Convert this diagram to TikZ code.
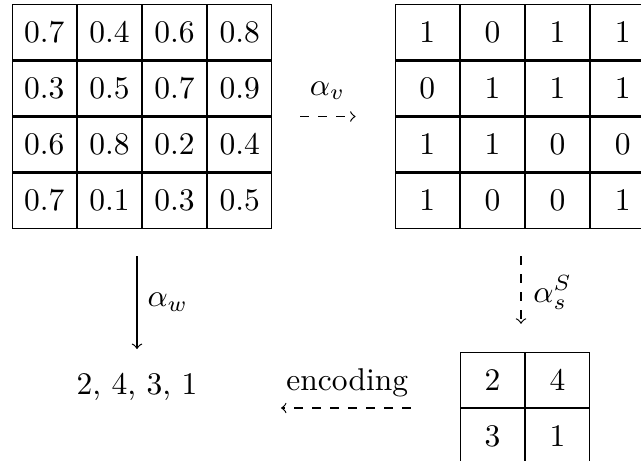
\RequirePackage{fix-cm}
\documentclass[tikz,border=0pt]{standalone}
\usetikzlibrary{matrix}
\begin{document}
\begin{tikzpicture}[x=0.33333pt,y=-0.33333pt,
  font=\fontsize{10.5}{12.6}\selectfont,
  cell/.style={draw, inner sep=0pt, outer sep=0pt,
    minimum width=21.333pt, minimum height=18.333pt},
  grid/.style={matrix of math nodes, nodes={cell},
    inner sep=0pt, outer sep=0pt, column sep=0pt, row sep=0pt},
  map/.style={->},
  dmap/.style={->, dashed}]
  \fill[white] (0,0) rectangle (641,461);
  \useasboundingbox (0,0) rectangle (641,461);

  % weight matrix
  \matrix (W) [grid] at (142,116.5) {
    0.7 & 0.4 & 0.6 & 0.8 \\
    0.3 & 0.5 & 0.7 & 0.9 \\
    0.6 & 0.8 & 0.2 & 0.4 \\
    0.7 & 0.1 & 0.3 & 0.5 \\
  };

  % binary matrix
  \matrix (V) [grid] at (525,116.5) {
    1 & 0 & 1 & 1 \\
    0 & 1 & 1 & 1 \\
    1 & 1 & 0 & 0 \\
    1 & 0 & 0 & 1 \\
  };

  % reduced matrix
  \matrix (S) [grid] at (525,408) {
    2 & 4 \\
    3 & 1 \\
  };

  % encoded sequence
  \node (L) [inner sep=0pt, anchor=base] at (137,395) {2, 4, 3, 1};

  % maps between the representations
  \draw[dmap, shorten <=9.33pt, shorten >=13pt] (W.east) -- (V.west)
    node[pos=0.45, above=2pt] (av) {$\alpha_v$};
  \draw[map, shorten <=9.17pt, shorten >=8pt] (W.south -| L.north) -- (L.north)
    node[pos=0.51, right] (aw) {$\alpha_w$};
  \draw[dmap, shorten <=9.17pt, shorten >=9.33pt]
    ([xshift=-1.333pt]V.south) -- ([xshift=-1.333pt]S.north)
    node[pos=0.52, right=0.6pt] (as) {$\alpha_s^S$};
  \draw[dmap, shorten <=16.33pt, shorten >=27.67pt] (S.west) -- (S.west -| L.east)
    node[pos=0.43, above] (enc) {encoding};
\end{tikzpicture}
\end{document}
